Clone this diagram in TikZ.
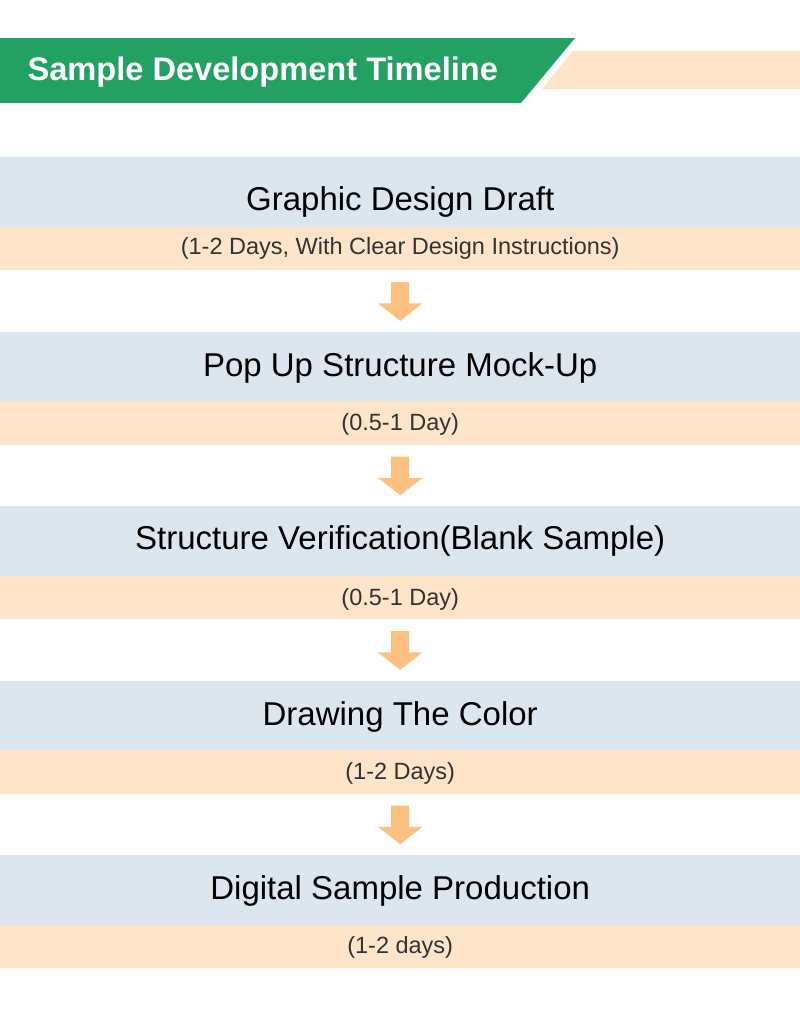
\documentclass[tikz,border=0pt]{standalone}
\usepackage{fontspec}
\setmainfont{Liberation Sans}
\usetikzlibrary{calc}

\begin{document}
\begin{tikzpicture}[
    x=1pt, y=-1pt,
    font=\rmfamily
]

    % Parameters
    \def\pageW{800}
    \def\pageH{1020}
    \def\firstTop{157}
    \def\blockStep{174.5}

    % Define colors
    \definecolor{headGreen}{HTML}{23A162}
    \definecolor{bandBlue}{HTML}{DCE6EF}
    \definecolor{bandPeach}{HTML}{FEE5CA}
    \definecolor{arrowOrange}{HTML}{FFC17F}
    \definecolor{noteGray}{HTML}{333333}

    \tikzset{
        band/.style={inner sep=0pt, minimum width=800pt, anchor=north west},
        titletext/.style={anchor=base, text=black, font=\fontsize{33}{36}\selectfont},
        notetext/.style={anchor=base, text=noteGray, font=\fontsize{23.5}{26}\selectfont}
    }

    \fill[white] (0,0) rectangle (\pageW,\pageH);
    \useasboundingbox (0,0) rectangle (\pageW,\pageH);

    % 1. Header
    \fill[headGreen] (0,38) -- (575,38) -- (521,103) -- (0,103) -- cycle;
    \fill[bandPeach] (573,51) -- (\pageW,51) -- (\pageW,89) -- (542,89) -- cycle;
    \node[anchor=base west, text=white, font=\fontsize{32.6}{36}\selectfont\bfseries] (header) at (24,80) {Sample Development Timeline};

    % 2. Steps
    \foreach \ttl/\note/\ttlY/\noteY [count=\i] in {
        Graphic Design Draft/{(1-2 Days, With Clear Design Instructions)}/53/28,
        Pop Up Structure Mock-Up/{(0.5-1 Day)}/44.5/30,
        Structure Verification(Blank Sample)/{(0.5-1 Day)}/43.5/30,
        Drawing The Color/{(1-2 Days)}/44.5/30,
        Digital Sample Production/{(1-2 days)}/44.5/29.5} {
        \node[band, fill=bandBlue, minimum height=69.5pt] (title\i) at (0, {\firstTop+(\i-1)*\blockStep}) {};
        \node[band, fill=bandPeach, minimum height=43.5pt] (note\i) at ($(title\i.south west)+(0,-0.5)$) {};
        \node[titletext] (titletext\i) at ($(title\i.north)+(0,\ttlY)$) {\ttl};
        \node[notetext] (notetext\i) at ($(note\i.north)+(0,\noteY)$) {\note};
    }

    % 3. Arrows between steps
    \foreach \i [evaluate=\i as \j using int(\i+1)] in {1,...,4} {
        \fill[arrowOrange] ($(note\i.south)+(-9,11.7)$) -- ($(note\i.south)+(9,11.7)$)
            -- ($(note\i.south)+(9,33)$) -- ($(note\i.south)+(22.3,33)$)
            -- ($(title\j.north)+(0,-10.7)$)
            -- ($(note\i.south)+(-22.3,33)$) -- ($(note\i.south)+(-9,33)$) -- cycle;
    }

\end{tikzpicture}
\end{document}
